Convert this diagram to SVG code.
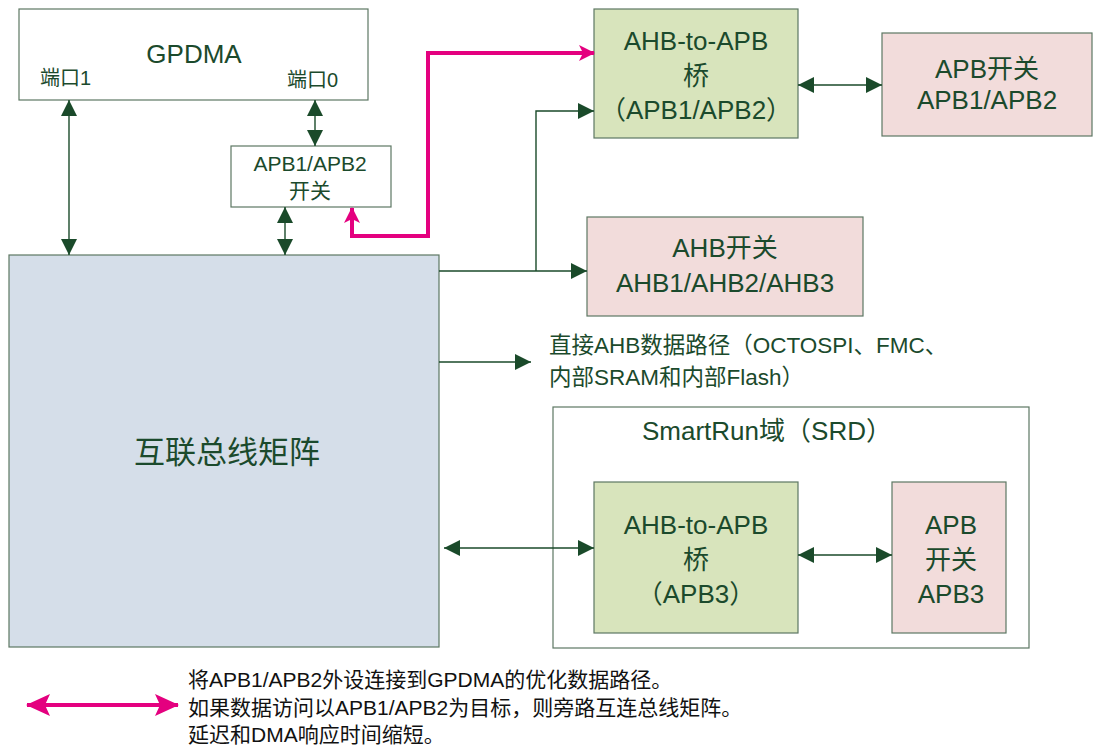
<svg xmlns="http://www.w3.org/2000/svg" width="1093" height="747" viewBox="0 0 1093 747">
<style>
  text { font-family: "Liberation Sans", "Noto Sans CJK SC", sans-serif; fill: #1b4a2c; }
  .c { text-anchor: middle; }
  .box { stroke: #5d7763; stroke-width: 1.2; }
  .white { fill: #ffffff; }
  .bridge { fill: #d8e4bc; }
  .sw { fill: #f2dcdb; }
  .mat { fill: #d5dee9; }
  .g { stroke: #1a4a2a; stroke-width: 1.4; fill: none; }
  .p { stroke: #e4007f; stroke-width: 4; fill: none; }
  .s20 { font-size: 20px; }
  .s22 { font-size: 22.5px; }
  .s26 { font-size: 26px; }
  .s21 { font-size: 21px; fill: #111111; }
</style>
<defs>
  <marker id="ga" markerUnits="userSpaceOnUse" markerWidth="16" markerHeight="16" refX="16" refY="8" orient="auto-start-reverse" viewBox="0 0 16 16">
    <path d="M0,0 L16,8 L0,16 z" fill="#1a4a2a"/>
  </marker>
  <marker id="pa" markerUnits="userSpaceOnUse" markerWidth="16" markerHeight="16" refX="15" refY="8" orient="auto-start-reverse" viewBox="0 0 16 16">
    <path d="M0,0 L16,8 L0,16 L4,8 z" fill="#e4007f"/>
  </marker>
  <marker id="pb" markerUnits="userSpaceOnUse" markerWidth="24" markerHeight="22" refX="23" refY="11" orient="auto-start-reverse" viewBox="0 0 24 22">
    <path d="M0,0 L24,11 L0,22 L5,11 z" fill="#e4007f"/>
  </marker>
</defs>

<g id="gpdma">
  <rect class="box white" x="19" y="9" width="349" height="91"/>
  <text class="c s26" x="194" y="63">GPDMA</text>
  <text class="s20" x="40" y="85">端口1</text>
  <text class="s20" x="287" y="87">端口0</text>
</g>

<g id="apb12-switch-gpdma">
  <rect class="box white" x="231" y="146" width="160" height="61"/>
  <text class="c" x="310" y="171" style="font-size:21px">APB1/APB2</text>
  <text class="c" x="310" y="198" style="font-size:21px">开关</text>
</g>

<g id="matrix">
  <rect class="box mat" x="9" y="255" width="430" height="392"/>
  <text class="c" x="227" y="463" style="font-size:31px">互联总线矩阵</text>
</g>

<g id="bridge-apb12">
  <rect class="box bridge" x="594" y="9" width="204" height="129"/>
  <text class="c s26" x="696" y="50">AHB-to-APB</text>
  <text class="c s26" x="696" y="85">桥</text>
  <text class="c s26" x="696" y="119">（APB1/APB2）</text>
</g>

<g id="apb12-switch">
  <rect class="box sw" x="882" y="33" width="210" height="103"/>
  <text class="c s26" x="987" y="78">APB开关</text>
  <text class="c s26" x="987" y="109">APB1/APB2</text>
</g>

<g id="ahb-switch">
  <rect class="box sw" x="587" y="217" width="276" height="99"/>
  <text class="c s26" x="725" y="257">AHB开关</text>
  <text class="c s26" x="725" y="292">AHB1/AHB2/AHB3</text>
</g>

<g id="direct-path">
  <text class="s22" x="549" y="353">直接AHB数据路径（OCTOSPI、FMC、</text>
  <text class="s22" x="549" y="385">内部SRAM和内部Flash）</text>
</g>

<g id="srd">
  <rect class="box white" x="553" y="407" width="476" height="241"/>
  <text class="s26" x="642" y="440">SmartRun域（SRD）</text>
</g>

<g id="bridge-apb3">
  <rect class="box bridge" x="594" y="482" width="204" height="151"/>
  <text class="c s26" x="696" y="534">AHB-to-APB</text>
  <text class="c s26" x="696" y="569">桥</text>
  <text class="c s26" x="696" y="603">（APB3）</text>
</g>

<g id="apb3-switch">
  <rect class="box sw" x="892" y="482" width="114" height="151"/>
  <text class="c s26" x="951" y="534">APB</text>
  <text class="c s26" x="951" y="569">开关</text>
  <text class="c s26" x="951" y="603">APB3</text>
</g>

<g id="connectors">
  <line class="g" x1="69" y1="100" x2="69" y2="255" marker-start="url(#ga)" marker-end="url(#ga)"/>
  <line class="g" x1="315" y1="100" x2="315" y2="146" marker-start="url(#ga)" marker-end="url(#ga)"/>
  <line class="g" x1="285" y1="207" x2="285" y2="255" marker-start="url(#ga)" marker-end="url(#ga)"/>
  <line class="g" x1="798" y1="85" x2="882" y2="85" marker-start="url(#ga)" marker-end="url(#ga)"/>
  <line class="g" x1="439" y1="271" x2="587" y2="271" marker-end="url(#ga)"/>
  <polyline class="g" points="536,271 536,111 594,111" marker-end="url(#ga)"/>
  <line class="g" x1="439" y1="362" x2="531" y2="362" marker-end="url(#ga)"/>
  <line class="g" x1="444" y1="548" x2="594" y2="548" marker-start="url(#ga)" marker-end="url(#ga)"/>
  <line class="g" x1="798" y1="555" x2="892" y2="555" marker-start="url(#ga)" marker-end="url(#ga)"/>
  <polyline class="p" points="352,208 352,236 428,236 428,53 594,53" marker-start="url(#pa)" marker-end="url(#pa)" style="stroke-linejoin:miter"/>
</g>

<g id="legend">
  <line class="p" x1="27" y1="705" x2="178" y2="705" marker-start="url(#pb)" marker-end="url(#pb)"/>
  <text class="s21" x="188" y="687">将APB1/APB2外设连接到GPDMA的优化数据路径。</text>
  <text class="s21" x="188" y="715">如果数据访问以APB1/APB2为目标，则旁路互连总线矩阵。</text>
  <text class="s21" x="188" y="742">延迟和DMA响应时间缩短。</text>
</g>
</svg>
